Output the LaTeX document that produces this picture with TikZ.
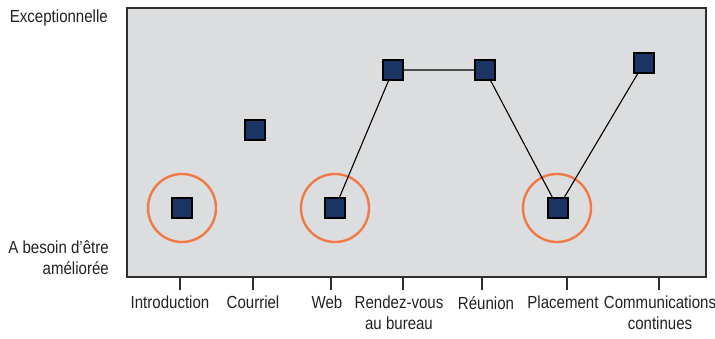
\documentclass[tikz,border=0pt]{standalone}
\usepackage{fontspec}
\setmainfont[FakeStretch=0.86]{Liberation Sans}
\usetikzlibrary{positioning}
\definecolor{evalPanel}{HTML}{DCDDDF}
\definecolor{evalFrame}{HTML}{2E2E2E}
\definecolor{evalMark}{HTML}{1B3664}
\definecolor{evalRing}{HTML}{F07A45}
\definecolor{evalText}{HTML}{222222}
\tikzset{
  evalfig/.style={
    x=1pt, y=-1pt,
    every node/.append style={font=\fontsize{17.5}{21}\selectfont, text=evalText},
  },
  panel/.style={draw=evalFrame, line width=1.5pt, fill=evalPanel},
  marker/.style={draw=black, line width=1.2pt, fill=evalMark,
    minimum size=20pt, inner sep=0pt},
  ring/.style={draw=evalRing, line width=2.4pt, circle, minimum size=68pt, inner sep=0pt},
  trend/.style={draw=black, line width=1.1pt},
  tick/.style={draw=evalFrame, line width=1.5pt},
  catlabel/.style={anchor=north, align=center, inner sep=0pt},
  levlabel/.style={anchor=east, align=right, inner sep=0pt},
}

\begin{document}
\begin{tikzpicture}[evalfig]
  \useasboundingbox (0,0) rectangle (715,338);
  \draw[panel] (127,8) rectangle (706,277);
  % niveaux
  \node[levlabel] (Exceptionnelle) at (108,18) {Exceptionnelle};
  \node[levlabel] (Ameliorer) at (109,258) {A besoin d’être\\améliorée};
  % axes des catégories
  \foreach \x in {180,253,331,403,482,567,659}
    \draw[tick] (\x,277) -- (\x,290);
  \node[catlabel] (LabIntro) at (170,296) {Introduction};
  \node[catlabel] (LabCourriel) at (253,296) {Courriel};
  \node[catlabel] (LabWeb) at (327,296) {Web};
  \node[catlabel] (LabRdv) at (399,296) {Rendez-vous\\au bureau};
  \node[catlabel] (LabReunion) at (486,296) {Réunion};
  \node[catlabel] (LabPlacement) at (563,296) {Placement};
  \node[catlabel] (LabComm) at (660,296) {Communications\\continues};
  % points faibles
  \node[ring] (RingIntro) at (182,208) {};
  \node[ring] (RingWeb) at (335,208) {};
  \node[ring] (RingPlacement) at (557,208) {};
  % tendance
  \coordinate (PtWeb) at (335,208);
  \coordinate (PtRdv) at (393,70);
  \coordinate (PtReunion) at (485,70);
  \coordinate (PtPlacement) at (558,208);
  \coordinate (PtComm) at (644,63);
  \draw[trend] (PtWeb) -- (PtRdv) -- (PtReunion) -- (PtPlacement) -- (PtComm);
  \node[marker] (Introduction) at (182,208) {};
  \node[marker] (Courriel) at (255,130) {};
  \node[marker] (Web) at (PtWeb) {};
  \node[marker] (RendezVous) at (PtRdv) {};
  \node[marker] (Reunion) at (PtReunion) {};
  \node[marker] (Placement) at (PtPlacement) {};
  \node[marker] (Communications) at (PtComm) {};
\end{tikzpicture}
\end{document}
